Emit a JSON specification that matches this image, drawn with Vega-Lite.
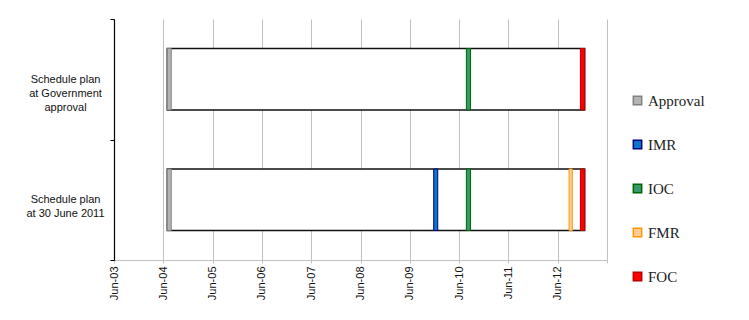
{
  "$schema": "https://vega.github.io/schema/vega-lite/v6.json",
  "autosize": {"type": "none"},
  "padding": {"left": 114, "top": 19, "right": 142, "bottom": 60},
  "width": 493,
  "height": 241,
  "background": "white",
  "config": {"view": {"stroke": null}},
  "datasets": {
    "spans": [
      {"row": "Schedule plan\nat Government\napproval", "start": "2004-06-29", "end": "2012-12-18"},
      {"row": "Schedule plan\nat 30 June 2011", "start": "2004-06-29", "end": "2012-12-18"}
    ],
    "milestones": [
      {"row": "Schedule plan\nat Government\napproval", "milestone": "Approval", "start": "2004-06-29", "end": "2004-07-29"},
      {"row": "Schedule plan\nat Government\napproval", "milestone": "IOC", "start": "2010-07-25", "end": "2010-08-25"},
      {"row": "Schedule plan\nat Government\napproval", "milestone": "FOC", "start": "2012-11-16", "end": "2012-12-18"},
      {"row": "Schedule plan\nat 30 June 2011", "milestone": "Approval", "start": "2004-06-29", "end": "2004-07-29"},
      {"row": "Schedule plan\nat 30 June 2011", "milestone": "IMR", "start": "2009-11-25", "end": "2009-12-25"},
      {"row": "Schedule plan\nat 30 June 2011", "milestone": "IOC", "start": "2010-07-25", "end": "2010-08-25"},
      {"row": "Schedule plan\nat 30 June 2011", "milestone": "FMR", "start": "2012-08-24", "end": "2012-09-17"},
      {"row": "Schedule plan\nat 30 June 2011", "milestone": "FOC", "start": "2012-11-16", "end": "2012-12-18"}
    ]
  },
  "encoding": {
    "y": {
      "field": "row",
      "type": "nominal",
      "scale": {"domain": ["Schedule plan\nat Government\napproval", "Schedule plan\nat 30 June 2011"], "paddingInner": 0, "paddingOuter": 0},
      "axis": {
        "title": null,
        "tickBand": "extent",
        "labelExpr": "isValid(datum.value) ? split(datum.value, '\\n') : ''",
        "labelAlign": "center",
        "labelPadding": 45,
        "labelFont": "Liberation Sans",
        "labelFontSize": 11,
        "labelLineHeight": 14,
        "labelColor": "#111111",
        "domainColor": "#000000",
        "domainWidth": 1.2,
        "tickColor": "#000000",
        "tickSize": 4,
        "grid": false
      }
    },
    "x": {
      "field": "start",
      "type": "temporal",
      "scale": {"type": "utc", "domain": [{"year": 2003, "month": 6, "date": 1, "utc": true}, {"year": 2013, "month": 6, "date": 1, "utc": true}]},
      "axis": {
        "title": null,
        "values": [
          {"year": 2003, "month": 6, "date": 1, "utc": true},
          {"year": 2004, "month": 6, "date": 1, "utc": true},
          {"year": 2005, "month": 6, "date": 1, "utc": true},
          {"year": 2006, "month": 6, "date": 1, "utc": true},
          {"year": 2007, "month": 6, "date": 1, "utc": true},
          {"year": 2008, "month": 6, "date": 1, "utc": true},
          {"year": 2009, "month": 6, "date": 1, "utc": true},
          {"year": 2010, "month": 6, "date": 1, "utc": true},
          {"year": 2011, "month": 6, "date": 1, "utc": true},
          {"year": 2012, "month": 6, "date": 1, "utc": true},
          {"year": 2013, "month": 6, "date": 1, "utc": true}
        ],
        "labelExpr": "utcyear(datum.value) == 2013 ? '' : utcFormat(datum.value, '%b-%y')",
        "labelAngle": 270,
        "labelAlign": "right",
        "labelBaseline": "middle",
        "labelFont": "Liberation Sans",
        "labelFontSize": 11,
        "labelColor": "#111111",
        "labelPadding": 3,
        "labelFlush": false,
        "labelOverlap": false,
        "grid": true,
        "gridColor": "#c0c0c0",
        "gridWidth": 1,
        "domainColor": "#c0c0c0",
        "tickColor": "#c0c0c0",
        "tickSize": 3
      }
    }
  },
  "layer": [
    {
      "data": {"name": "spans"},
      "mark": {"type": "bar", "fill": "white", "stroke": "#111111", "strokeWidth": 1.3, "height": {"band": 0.51}},
      "encoding": {
        "x2": {"field": "end"}
      }
    },
    {
      "data": {"name": "milestones"},
      "mark": {"type": "bar", "strokeWidth": 1, "height": {"band": 0.51}},
      "encoding": {
        "x2": {"field": "end"},
        "fill": {
          "field": "milestone",
          "type": "nominal",
          "scale": {"domain": ["Approval", "IMR", "IOC", "FMR", "FOC"], "range": ["#b4b4b4", "#0a78c8", "#339966", "#ffcc99", "#ff0000"]},
          "legend": {
            "title": null,
            "orient": "none",
            "legendX": 516,
            "legendY": 74,
            "padding": 0,
            "symbolType": "square",
            "symbolSize": 70,
            "symbolStrokeWidth": 1.5,
            "labelFont": "Liberation Serif",
            "labelFontSize": 15,
            "labelColor": "#222222",
            "labelOffset": 3,
            "rowPadding": 28
          }
        },
        "stroke": {
          "field": "milestone",
          "type": "nominal",
          "scale": {"domain": ["Approval", "IMR", "IOC", "FMR", "FOC"], "range": ["#808080", "#000080", "#006600", "#ff9900", "#bb0000"]},
          "legend": null
        }
      }
    }
  ]
}
